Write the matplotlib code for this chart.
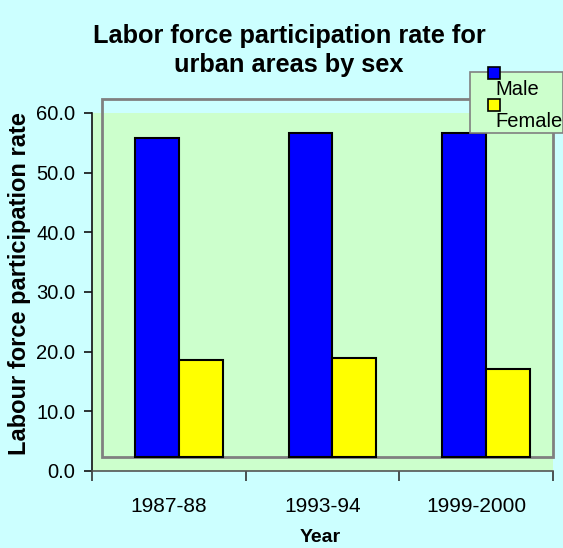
import matplotlib
matplotlib.use("Agg")
import matplotlib.pyplot as plt
from matplotlib.patches import Rectangle
import numpy as np

plt.rcParams['font.family'] = ['Liberation Sans', 'DejaVu Sans']

# ---- data ----
years = ["1987-88", "1993-94", "1999-2000"]
series_names = ["Male", "Female"]
male = [55.8, 56.7, 56.6]
female = [18.6, 18.9, 17.1]
yticks = [0, 10, 20, 30, 40, 50, 60]

title = "Labor force participation rate for\nurban areas by sex"
ylabel = "Labour force participation rate"
xlabel = "Year"

# ---- style ----
BG = "#CCFFFF"
PLOT_BG = "#CCFFCC"
colors = ["#0000FF", "#FFFF00"]
base = 2.35          # bars rise from the inner plot-area frame
bar_w = 0.286
shift = 0.065

fig = plt.figure(figsize=(5.63, 5.48), dpi=100)
fig.patch.set_facecolor(BG)
ax = fig.add_axes([92/563, 1-471/548, (553-92)/563, (471-113)/548])
ax.set_facecolor(PLOT_BG)

x = np.arange(len(years))
for i, (vals, c) in enumerate(zip([male, female], colors)):
    vals = np.asarray(vals)
    ax.bar(x + shift + (i - 0.5) * bar_w, vals - base, bottom=base, width=bar_w,
           color=c, edgecolor="black", linewidth=1.5, zorder=3)

ax.set_xlim(-0.5, len(years) - 0.5)
ax.set_ylim(0, 60)

# inner plot-area frame (Excel style)
ax.add_patch(Rectangle((-0.435, base), len(years) - 0.5 + 0.435, 62.3 - base,
                       fill=False, edgecolor="#808080", linewidth=2,
                       clip_on=False, zorder=2))

for s in ["top", "right"]:
    ax.spines[s].set_visible(False)
ax.spines["left"].set_color("#111111")
ax.spines["bottom"].set_color("#555555")
for s in ["left", "bottom"]:
    ax.spines[s].set_linewidth(1.2)

ax.set_yticks(yticks)
ax.set_yticklabels([f"{v:.1f}" for v in yticks], fontsize=14.5)
ax.tick_params(axis="y", length=6, width=1.2, color="#111111", pad=6)

ax.set_xticks(x)
ax.set_xticklabels(years, fontsize=15)
ax.set_xticks(np.arange(-0.5, len(years)), minor=True)
ax.tick_params(axis="x", which="major", length=0, pad=19)
ax.tick_params(axis="x", which="minor", length=7, width=1.2, color="#333333")

fig.text(289/563, 1-24/548, title, ha="center", va="top", fontsize=18.3,
         fontweight="bold", linespacing=1.27)
fig.text(20/563, 1-284/548, ylabel, rotation=90, ha="center", va="center",
         fontsize=17, fontweight="bold")
fig.text(320/563, 1-538/548, xlabel, ha="center", va="center",
         fontsize=14, fontweight="bold")

# legend (Excel style)
fig.patches.append(Rectangle((470/563, 1-133/548), 93/563, 61/548,
                             transform=fig.transFigure, facecolor=PLOT_BG,
                             edgecolor="#808080", linewidth=1.2, zorder=5))
ys = [73, 105]
for name, c, yy in zip(series_names, colors, ys):
    fig.patches.append(Rectangle((488/563, 1-(yy+6)/548), 12/563, 12/548,
                                 transform=fig.transFigure, facecolor=c,
                                 edgecolor="black", linewidth=1.2, zorder=6))
    fig.text(495/563, 1-(yy+22)/548, name, ha="left", va="baseline",
             fontsize=14.5, zorder=7)

fig.savefig("out.png", dpi=100, facecolor=BG)
